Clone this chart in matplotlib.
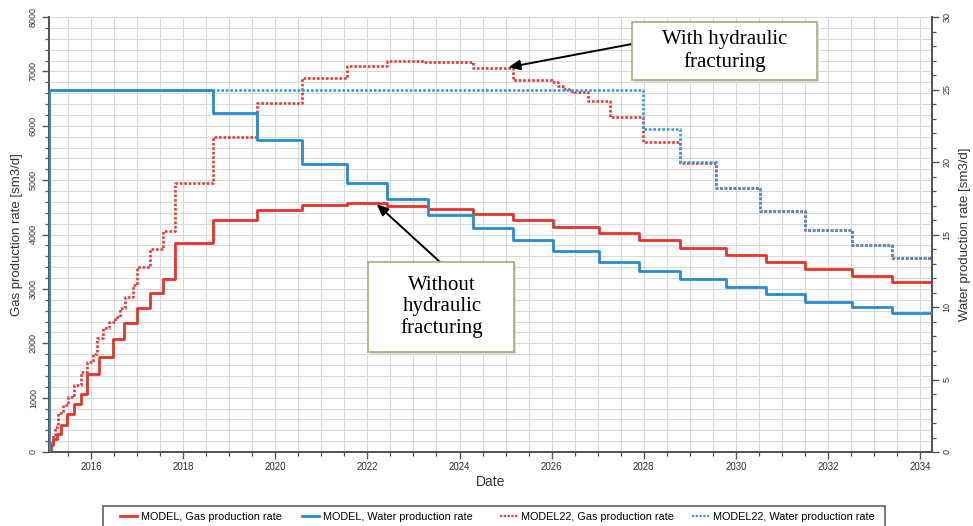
import matplotlib
matplotlib.use('Agg')
import matplotlib.pyplot as plt
from matplotlib.ticker import MultipleLocator, FuncFormatter, FixedLocator
from matplotlib.patches import Rectangle
from matplotlib.lines import Line2D

# ---------------- data ----------------
t_end = 2034.25

gas_model_t = [2015.088, 2015.13, 2015.18, 2015.255, 2015.35, 2015.47, 2015.62, 2015.78,
               2015.92, 2016.18, 2016.47, 2016.72, 2017.00, 2017.28, 2017.57, 2017.82,
               2018.65, 2019.61, 2020.57, 2021.55, 2022.43, 2023.31, 2024.30, 2025.17,
               2026.03, 2027.03, 2027.89, 2028.78, 2029.78, 2030.65, 2031.51, 2032.51, 2033.38]
gas_model = [30, 120, 230, 340, 500, 690, 880, 1065, 1430, 1745, 2075, 2367, 2654, 2930,
             3176, 3849, 4266, 4450, 4542, 4579, 4530, 4469, 4377, 4266, 4143, 4022, 3899,
             3746, 3614, 3494, 3365, 3237, 3121]

water_model_t = [2015.085, 2015.09, 2018.65, 2019.61, 2020.57, 2021.55, 2022.43, 2023.31,
                 2024.30, 2025.17, 2026.03, 2027.03, 2027.89, 2028.78, 2029.78, 2030.65,
                 2031.51, 2032.51, 2033.38]
water_model = [0, 25, 23.4, 21.5, 19.84, 18.57, 17.45, 16.34, 15.43, 14.62, 13.88, 13.12,
               12.50, 11.91, 11.40, 10.87, 10.37, 9.98, 9.57]

gas22_t = [2015.088, 2015.11, 2015.17, 2015.22, 2015.29, 2015.40, 2015.51, 2015.62, 2015.78,
           2015.92, 2016.05, 2016.12, 2016.27, 2016.40, 2016.52, 2016.62, 2016.74, 2016.92,
           2017.00, 2017.28, 2017.57, 2017.82, 2018.65, 2019.61, 2020.57, 2021.55, 2022.43,
           2023.25, 2024.30, 2025.17, 2026.01, 2026.13, 2026.25, 2026.37, 2026.48, 2026.78,
           2027.27, 2027.99, 2028.78, 2029.56, 2030.52, 2031.50, 2032.51, 2033.38]
gas22 = [0, 160, 313, 465, 712, 860, 1017, 1232, 1477, 1650, 1800, 2091, 2275, 2400, 2488,
         2650, 2856, 3071, 3407, 3728, 4064, 4941, 5798, 6413, 6869, 7099, 7191, 7172, 7056,
         6850, 6800, 6740, 6680, 6640, 6615, 6460, 6166, 5706, 5309, 4849, 4438, 4083, 3807,
         3562]

water22_t = [2015.085, 2015.09, 2027.99, 2028.78, 2029.56, 2030.52, 2031.50, 2032.51, 2033.38]
water22 = [0, 25, 22.26, 20.02, 18.19, 16.64, 15.31, 14.28, 13.36]

labels = ["MODEL, Gas production rate", "MODEL, Water production rate",
          "MODEL22, Gas production rate", "MODEL22, Water production rate"]
xticks_major = [2016, 2018, 2020, 2022, 2024, 2026, 2028, 2030, 2032, 2034]

# ---------------- style ----------------
plt.rcParams['font.family'] = ['Liberation Sans', 'DejaVu Sans']
RED = '#e4352b'
BLUE = '#2a8ccb'
RED_D = '#e23b3b'
BLUE_D = '#3e9ad6'
SPINE = '#555555'
DOT = (0, (1.0, 0.7))
W, H = 973, 526


def ext(t, v):
    return list(t) + [t_end], list(v) + [v[-1]]


def px2fig(px, py):
    return px / W, 1 - py / H


fig = plt.figure(figsize=(9.73, 5.26), dpi=100)
ax = fig.add_axes([49 / W, 1 - 452 / H, (931.7 - 49) / W, (452 - 17) / H])
ax2 = ax.twinx()

ax.set_xlim(2015.088, t_end)
ax.set_ylim(0, 8000)
ax2.set_ylim(0, 30)

ax.set_axisbelow(True)
ax.xaxis.set_major_locator(FixedLocator(xticks_major))
ax.xaxis.set_minor_locator(MultipleLocator(0.5))
ax.yaxis.set_major_locator(MultipleLocator(1000))
ax.yaxis.set_minor_locator(MultipleLocator(200))
ax2.yaxis.set_major_locator(MultipleLocator(5))
ax2.yaxis.set_minor_locator(MultipleLocator(1))
ax.xaxis.set_major_formatter(FuncFormatter(lambda x, p: f"{int(round(x))}"))

ax.grid(True, which='both', color='#d9d9d9', lw=0.75)

x, y = ext(gas22_t, gas22)
ax.step(x, y, where='post', color=RED_D, lw=1.9, ls=DOT, zorder=3)
x, y = ext(gas_model_t, gas_model)
ax.step(x, y, where='post', color=RED, lw=2.0, zorder=4)
x, y = ext(water22_t, water22)
ax2.step(x, y, where='post', color=BLUE_D, lw=1.9, ls=DOT, zorder=3)
x, y = ext(water_model_t, water_model)
ax2.step(x, y, where='post', color=BLUE, lw=2.0, zorder=4)

for a in (ax, ax2):
    a.spines['top'].set_visible(False)
    for s in ('left', 'right', 'bottom'):
        a.spines[s].set_color(SPINE)
        a.spines[s].set_linewidth(1.3)

ax.tick_params(axis='both', which='major', direction='out', length=5, width=1,
               color=SPINE, labelsize=7, labelcolor='#333333')
ax.tick_params(axis='x', which='major', pad=2)
ax.tick_params(axis='both', which='minor', direction='out', length=3, width=0.9, color=SPINE)
ax.tick_params(axis='y', labelrotation=90, labelsize=6.5, pad=3)
ax2.tick_params(axis='y', which='major', direction='out', length=5, width=1, color=SPINE,
                labelsize=6.5, labelcolor='#333333', labelrotation=90, pad=3)
ax2.tick_params(axis='y', which='minor', direction='out', length=3, width=0.9, color=SPINE)
for lab in ax.get_yticklabels() + ax2.get_yticklabels():
    lab.set_verticalalignment('center')

ax.set_xlabel('Date', fontsize=10, color='#333333', labelpad=2)
ax.set_ylabel('Gas production rate [sm3/d]', fontsize=9.5, color='#333333', labelpad=4)
ax2.set_ylabel('Water production rate [sm3/d]', fontsize=9.5, color='#333333',
               rotation=90, labelpad=5)

# ---------------- annotations ----------------
BOX_EC = '#a4ad80'
for (x0, y0, x1, y1) in [(632, 22, 817, 80), (368, 262, 514, 352)]:
    fx0, fy1 = px2fig(x0, y1)
    fx1, fy0 = px2fig(x1, y0)
    fig.patches.append(Rectangle((fx0 + 0.002, fy1 - 0.004), fx1 - fx0, fy0 - fy1,
                                 transform=fig.transFigure, fc='#dcdcdc', ec='none',
                                 zorder=5))
    fig.patches.append(Rectangle((fx0, fy1), fx1 - fx0, fy0 - fy1,
                                 transform=fig.transFigure, fc='white', ec=BOX_EC,
                                 lw=1.2, zorder=6))

fig.text(*px2fig(725, 51), 'With hydraulic\nfracturing', ha='center', va='center',
         fontsize=15, family='Liberation Serif', linespacing=1.15, zorder=7)
fig.text(*px2fig(442, 307), 'Without\nhydraulic\nfracturing', ha='center', va='center',
         fontsize=15, family='Liberation Serif', linespacing=1.15, zorder=7)

arrow = dict(arrowstyle='-|>,head_length=0.7,head_width=0.3', color='black', lw=1.4,
             shrinkA=0, shrinkB=0)
ax.annotate('', xy=(2025.06, 7075), xytext=px2fig(632, 44), textcoords='figure fraction',
            arrowprops=arrow, zorder=8, annotation_clip=False)
ax.annotate('', xy=(2022.20, 4560), xytext=px2fig(440, 262), textcoords='figure fraction',
            arrowprops=arrow, zorder=8, annotation_clip=False)

# ---------------- legend ----------------
fx0, fy1 = px2fig(103, 532)
fx1, fy0 = px2fig(885, 506)
fig.patches.append(Rectangle((fx0, fy1), fx1 - fx0, fy0 - fy1, transform=fig.transFigure,
                             fc='white', ec=SPINE, lw=1.1, zorder=1))
handles = [Line2D([], [], color=RED, lw=2.0),
           Line2D([], [], color=BLUE, lw=2.0),
           Line2D([], [], color=RED_D, lw=1.6, ls=DOT),
           Line2D([], [], color=BLUE_D, lw=1.6, ls=DOT)]
handle_px = [120, 302, 500, 692]
for h, lab, hx in zip(handles, labels, handle_px):
    fig.legend([h], [lab], loc='center left', bbox_to_anchor=px2fig(hx, 517),
               fontsize=7.8, frameon=False, borderpad=0, borderaxespad=0,
               handlelength=1.6, handletextpad=0.35)

fig.savefig('out.png', dpi=100)
